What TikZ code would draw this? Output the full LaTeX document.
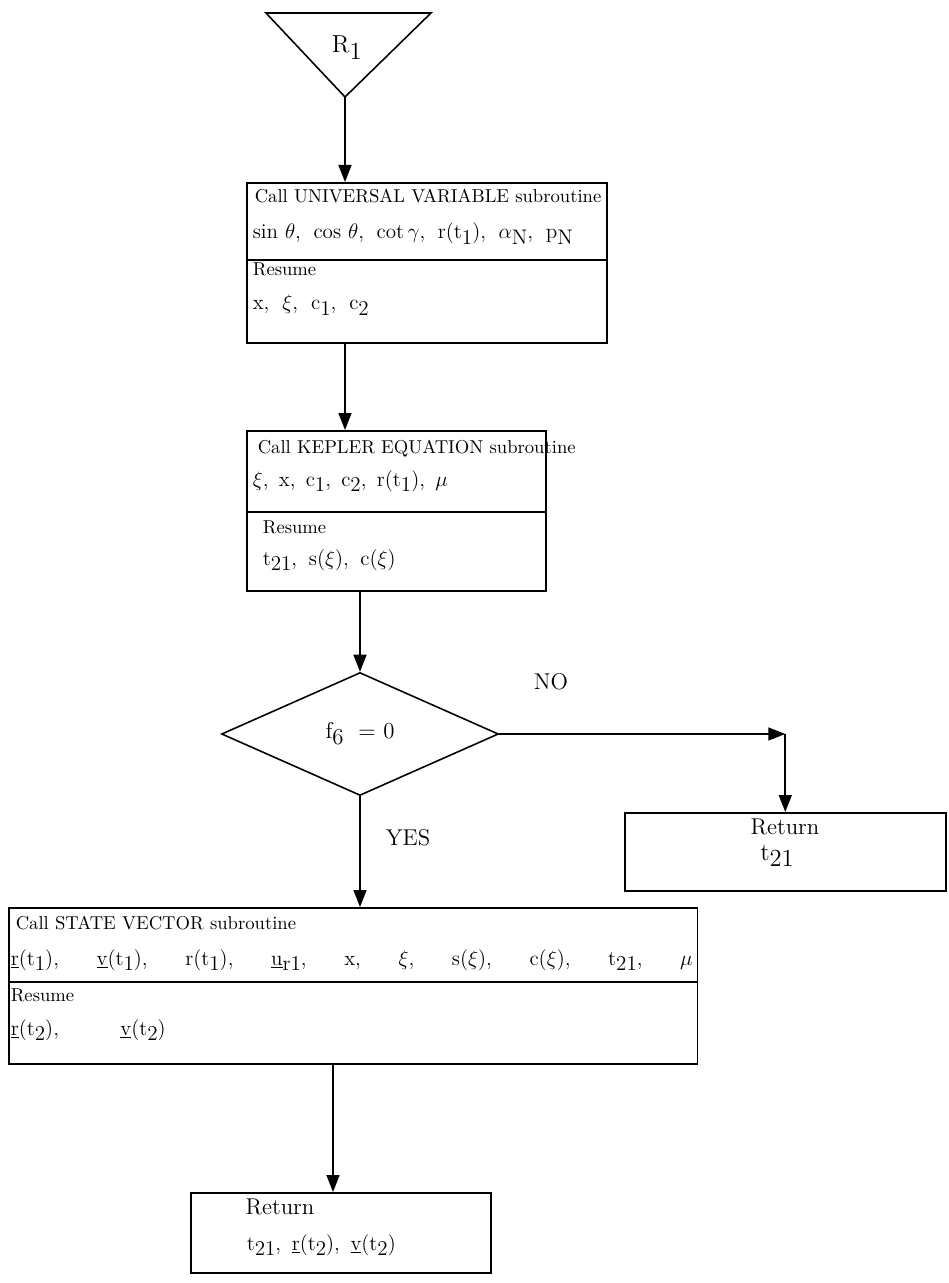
\documentclass[tikz,border=0pt]{standalone}
\usetikzlibrary{arrows.meta,shapes.geometric}
\newcommand\low[1]{\raisebox{-0.6ex}{#1}}
\newcommand\spread[2]{\hbox to #1{#2}}
\begin{document}
\begin{tikzpicture}[x=0.02cm,y=-0.02cm,
  line width=0.9pt,
  arr/.style={-{Triangle[length=0.34cm,width=0.26cm]}},
  box/.style={draw, rectangle, inner sep=0pt, anchor=north west},
  txt/.style={anchor=base west, inner sep=0pt, font=\fontsize{10.6}{13}\selectfont},
  mtxt/.style={anchor=base west, inner sep=0pt, font=\fontsize{12}{14}\selectfont},
  ctxt/.style={anchor=base, inner sep=0pt, font=\fontsize{13}{15}\selectfont},
  lbl/.style={inner sep=0pt, font=\fontsize{13}{15}\selectfont}]
\useasboundingbox (0,0) rectangle (948,1283);

% start triangle
\coordinate (tl) at (266,13);
\coordinate (tr) at (431,13);
\coordinate (apex) at (345,97);
\draw (tl) -- (tr) -- (apex) -- cycle;
\node[lbl, anchor=base west, font=\fontsize{14}{16}\selectfont] (r1) at (331,53) {R\low{1}};

% box 1
\node[box, minimum width=7.2cm, minimum height=3.2cm] (b1) at (246,182) {};
\draw (b1.west |- 0,260) -- (b1.east |- 0,260);
\node[txt] (b1a) at (254,203) {Call UNIVERSAL VARIABLE subroutine};
\node[mtxt] (b1b) at (252,239) {\spread{6.4cm}{sin $\theta$,\hfill cos $\theta$,\hfill cot\,$\gamma$,\hfill r(t\low{1}),\hfill $\alpha$\low{N},\hfill p\low{N}}};
\node[txt] (b1c) at (252,276) {Resume};
\node[mtxt] (b1d) at (252,310) {\spread{2.32cm}{x,\hfill $\xi$,\hfill c\low{1},\hfill c\low{2}}};

% box 2
\node[box, minimum width=5.98cm, minimum height=3.2cm] (b2) at (246,430) {};
\draw (b2.west |- 0,512) -- (b2.east |- 0,512);
\node[txt] (b2a) at (257,453) {Call KEPLER EQUATION subroutine};
\node[mtxt] (b2b) at (252,486) {\spread{3.9cm}{$\xi$,\hfill x,\hfill c\low{1},\hfill c\low{2},\hfill r(t\low{1}),\hfill $\mu$}};
\node[txt] (b2c) at (262,533) {Resume};
\node[mtxt] (b2d) at (262,565) {\spread{2.66cm}{t\low{21},\hfill s($\xi$),\hfill c($\xi$)}};

% decision
\node[draw, diamond, aspect=2.25, inner sep=0pt, minimum width=5.54cm, minimum height=2.46cm, font=\fontsize{13}{15}\selectfont] (dia) at (360,734) {f\low{6}\ \ = 0};
\node[lbl] (no) at (551,682) {NO};
\node[lbl] (yes) at (408,838) {YES};

% return 1
\node[box, minimum width=6.42cm, minimum height=1.56cm] (ret1) at (624,812) {};
\node[ctxt] (ret1a) at (785,834) {Return};
\node[ctxt, font=\fontsize{14}{16}\selectfont] (ret1b) at (777,860) {t\low{21}};
\coordinate (corner) at (ret1.north |- dia.east);

% box 3
\node[box, minimum width=13.78cm, minimum height=3.12cm] (b3) at (8,907) {};
\draw (b3.west |- 0,982) -- (b3.east |- 0,982);
\node[txt] (b3a) at (15,929) {Call STATE VECTOR subroutine};
\node[mtxt] (b3b) at (10,965) {\spread{13.64cm}{\underline{r}(t\low{1}),\hfill \underline{v}(t\low{1}),\hfill r(t\low{1}),\hfill \underline{u}\low{r1},\hfill x,\hfill $\xi$,\hfill s($\xi$),\hfill c($\xi$),\hfill t\low{21},\hfill $\mu$}};
\node[txt] (b3c) at (10,1001) {Resume};
\node[mtxt] (b3d) at (10,1035) {\spread{3.1cm}{\underline{r}(t\low{2}),\hfill \underline{v}(t\low{2})}};

% return 2
\node[box, minimum width=6cm, minimum height=1.6cm] (ret2) at (190,1192) {};
\node[ctxt] (ret2a) at (280,1214) {Return};
\node[mtxt] (ret2b) at (246,1250) {t\low{21},\enskip \underline{r}(t\low{2}),\enskip \underline{v}(t\low{2})};
\coordinate (b3out) at (333,1063);

% connectors
\draw[arr] (apex) -- (apex |- b1.north);
\draw[arr] (apex |- b1.south) -- (apex |- b2.north);
\draw[arr] (dia.north |- b2.south) -- (dia.north);
\draw[arr] (dia.east) -- (corner);
\draw[arr] (corner) -- (ret1.north);
\draw[arr] (dia.south) -- (dia.south |- b3.north);
\draw[arr] (b3out) -- (b3out |- ret2.north);
\end{tikzpicture}
\end{document}
